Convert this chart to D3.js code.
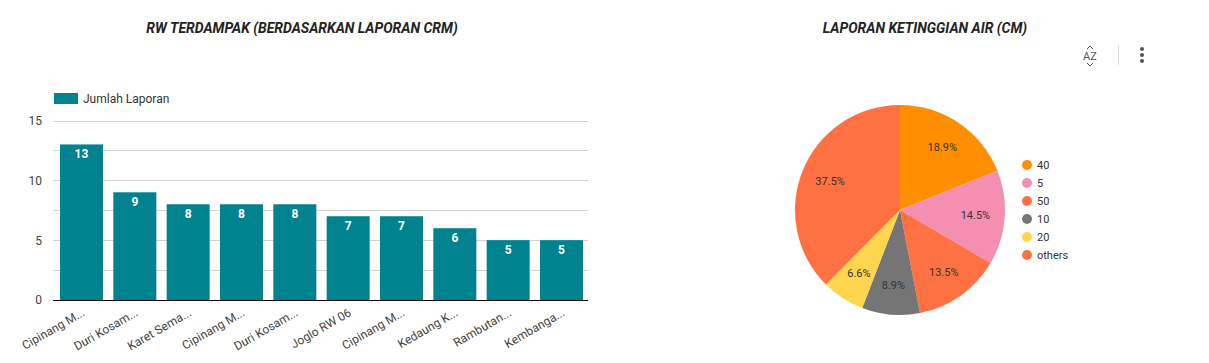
<!DOCTYPE html>
<html>
<head>
<meta charset="utf-8">
<script src="https://cdn.jsdelivr.net/npm/d3@7"></script>
<style>
  body { margin: 0; background: #fff; }
  text { font-family: Roboto, "Noto Sans", sans-serif; }
</style>
</head>
<body>
<script>
// bar chart data
var rwNames = ["Cipinang M...", "Duri Kosam...", "Karet Sema...", "Cipinang M...", "Duri Kosam...",
               "Joglo RW 06", "Cipinang M...", "Kedaung K...", "Rambutan...", "Kembanga..."];
var rwCounts = [13, 9, 8, 8, 8, 7, 7, 6, 5, 5];
var yTicks = [0, 5, 10, 15];

// pie chart data
var levelNames = ["40", "5", "50", "10", "20", "others"];
var levelShare = [18.9, 14.5, 13.5, 8.9, 6.6, 37.5];
var levelColors = ["#ff8f00", "#f48fb1", "#ff7043", "#757575", "#ffd54f", "#ff7043"];

window.onload = function() {
    var w = 1209, h = 363;

    var svg = d3.select("body").append("svg")
        .attr("width", w)
        .attr("height", h);

    // ---- left: bar chart ----
    var x = d3.scaleBand()
        .domain(d3.range(rwNames.length))
        .range([60, 583])
        .paddingInner(0.194)
        .paddingOuter(0);

    var y = d3.scaleLinear()
        .domain([0, 15])
        .range([300, 120.5]);

    svg.append("text")
        .attr("x", 302).attr("y", 33)
        .attr("text-anchor", "middle")
        .style("font-size", "14px")
        .style("font-weight", "bold")
        .style("font-style", "italic")
        .style("fill", "#222")
        .text("RW TERDAMPAK (BERDASARKAN LAPORAN CRM)");

    // grid lines every 2.5
    svg.append("g").selectAll("line")
        .data(d3.range(2.5, 15.1, 2.5))
        .enter().append("line")
        .attr("x1", 53).attr("x2", 588)
        .attr("y1", function(d) { return Math.round(y(d)) + 0.5; })
        .attr("y2", function(d) { return Math.round(y(d)) + 0.5; })
        .style("stroke", "#d3d3d3");

    var yAxis = svg.append("g")
        .attr("transform", "translate(53,0)")
        .call(d3.axisLeft(y).tickValues(yTicks).tickSize(0).tickPadding(11));
    yAxis.select(".domain").remove();
    yAxis.selectAll("text")
        .style("font-size", "12px")
        .style("fill", "#444")
        .style("font-family", "Roboto, sans-serif");

    svg.append("g").selectAll("rect")
        .data(rwCounts)
        .enter().append("rect")
        .attr("x", function(d, i) { return x(i); })
        .attr("width", x.bandwidth())
        .attr("y", function(d) { return y(d); })
        .attr("height", function(d) { return y(0) - y(d); })
        .style("fill", "#00838f");

    svg.append("g").selectAll("text")
        .data(rwCounts)
        .enter().append("text")
        .attr("x", function(d, i) { return x(i) + x.bandwidth() / 2; })
        .attr("y", function(d) { return y(d) + 14; })
        .attr("text-anchor", "middle")
        .style("font-size", "12px")
        .style("font-weight", "bold")
        .style("fill", "#fff")
        .text(function(d) { return d; });

    // baseline
    svg.append("line")
        .attr("x1", 53).attr("x2", 588)
        .attr("y1", 300.5).attr("y2", 300.5)
        .style("stroke", "#000");

    // x labels
    svg.append("g").selectAll("text")
        .data(rwNames)
        .enter().append("text")
        .attr("transform", function(d, i) {
            return "translate(" + (x(i) + x.bandwidth() / 2 + 4) + ",315) rotate(-30)";
        })
        .attr("text-anchor", "end")
        .style("font-size", "12px")
        .style("fill", "#444")
        .text(function(d) { return d; });

    // legend
    svg.append("rect")
        .attr("x", 54).attr("y", 93)
        .attr("width", 24).attr("height", 11)
        .style("fill", "#00838f");
    svg.append("text")
        .attr("x", 83).attr("y", 103)
        .style("font-size", "12px")
        .style("fill", "#333")
        .text("Jumlah Laporan");

    // ---- right: pie chart ----
    svg.append("text")
        .attr("x", 925).attr("y", 33)
        .attr("text-anchor", "middle")
        .style("font-size", "14px")
        .style("font-weight", "bold")
        .style("font-style", "italic")
        .style("fill", "#222")
        .text("LAPORAN KETINGGIAN AIR (CM)");

    // toolbar icons
    svg.append("text")
        .attr("x", 1090).attr("y", 60)
        .attr("text-anchor", "middle")
        .style("font-size", "11px")
        .style("fill", "#555")
        .text("AZ");
    svg.append("path")
        .attr("d", "M1087,49 L1090,46 L1093,49 M1087,63 L1090,66 L1093,63")
        .style("fill", "none")
        .style("stroke", "#555");
    svg.append("line")
        .attr("x1", 1118.5).attr("x2", 1118.5)
        .attr("y1", 45).attr("y2", 65)
        .style("stroke", "#ddd");
    svg.append("g").selectAll("circle")
        .data([49, 55, 61])
        .enter().append("circle")
        .attr("cx", 1142).attr("cy", function(d) { return d; })
        .attr("r", 2)
        .style("fill", "#555");

    var pie = d3.pie().sort(null).value(function(d) { return d; });
    var arcs = pie(levelShare);
    var r = 105;
    var arc = d3.arc().innerRadius(0).outerRadius(r);
    var labelArc = d3.arc().innerRadius(r * 0.72).outerRadius(r * 0.72);

    var pg = svg.append("g").attr("transform", "translate(900,210)");
    pg.selectAll("path")
        .data(arcs)
        .enter().append("path")
        .attr("d", arc)
        .style("fill", function(d, i) { return levelColors[i]; });

    pg.selectAll("text")
        .data(arcs)
        .enter().append("text")
        .attr("transform", function(d) { return "translate(" + labelArc.centroid(d) + ")"; })
        .attr("text-anchor", "middle")
        .attr("dy", "0.35em")
        .style("font-size", "11px")
        .style("fill", "#333")
        .text(function(d) { return d.data.toFixed(1) + "%"; });

    var lg = svg.append("g").selectAll("g")
        .data(levelNames)
        .enter().append("g")
        .attr("transform", function(d, i) { return "translate(1027," + (165 + i * 18) + ")"; });
    lg.append("circle")
        .attr("r", 5)
        .style("fill", function(d, i) { return levelColors[i]; });
    lg.append("text")
        .attr("x", 10).attr("dy", "0.35em")
        .style("font-size", "11px")
        .style("fill", "#333")
        .text(function(d) { return d; });
};
</script>
</body>
</html>
